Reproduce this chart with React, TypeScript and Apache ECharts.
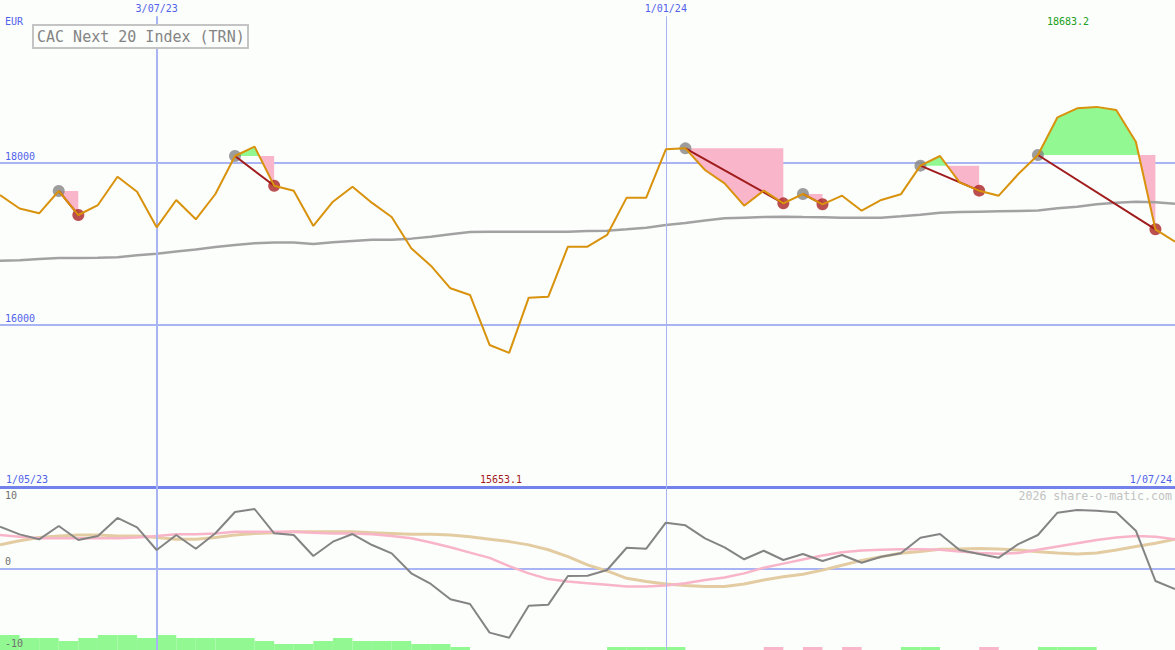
import React, { useEffect, useRef } from 'react';
import * as echarts from 'echarts';

// ---------- data ----------
const chartTitle = 'CAC Next 20 Index (TRN)';
const currency = 'EUR';
const watermark = '2026 share-o-matic.com';
const dateLabels = ['1/05/23', '3/07/23', '1/01/24', '1/07/24'];
const dateLabelIdx = [0, 8, 34, 60];
const priceTicks = [16000, 18000];
const oscTicks = [-10, 0, 10];

// weekly closes (index 0 .. 60)
const price = [
  17598, 17431, 17372, 17647, 17351, 17474, 17823, 17638, 17199, 17536,
  17298, 17610, 18078, 18193, 17712, 17651, 17216, 17515, 17700, 17500,
  17327, 16941, 16727, 16448, 16366, 15750, 15653.1, 16333, 16345, 16961,
  16961, 17105, 17565, 17565, 18160, 18172, 17906, 17741, 17466, 17651,
  17495, 17610, 17483, 17589, 17404, 17536, 17606, 17959, 18078, 17754,
  17651, 17589, 17856, 18090, 18555, 18665, 18683.2, 18645, 18254, 17175,
  17022,
];

// slow moving average
const movingAvg = [
  16788, 16795, 16810, 16821, 16821, 16825, 16830, 16855, 16875, 16900,
  16925, 16957, 16982, 17003, 17011, 17011, 16994, 17015, 17031, 17047,
  17047, 17060, 17084, 17113, 17142, 17146, 17146, 17146, 17146, 17146,
  17154, 17158, 17175, 17195, 17228, 17253, 17282, 17310, 17318, 17326,
  17330, 17325, 17322, 17318, 17318, 17318, 17335, 17355, 17380, 17388,
  17392, 17396, 17400, 17408, 17433, 17454, 17483, 17503, 17515, 17507,
  17491,
];

// trades: [entry index, exit index]
const tradeEntries = [3, 12, 35, 41, 47, 53];
const tradeExits = [4, 14, 40, 42, 50, 59];

// lower panel
const oscillator = [
  5.13, 4.19, 3.58, 5.21, 3.5, 3.99, 6.2, 5.05, 2.27, 4.11,
  2.43, 4.32, 6.93, 7.3, 4.32, 4.11, 1.53, 3.29, 4.23, 2.88,
  1.86, -0.59, -1.9, -3.78, -4.36, -7.87, -8.49, -4.56, -4.44, -0.92,
  -0.88, -0.18, 2.55, 2.43, 5.62, 5.3, 3.7, 2.6, 1.13, 2.18,
  1.04, 1.78, 0.92, 1.66, 0.71, 1.45, 1.86, 3.78, 4.23, 2.27,
  1.78, 1.33, 3.0, 4.11, 6.85, 7.18, 7.09, 6.9, 4.64, -1.53,
  -2.52,
];
const pinkSignal = [
  4.1, 3.9, 3.7, 3.7, 3.7, 3.7, 3.7, 3.8, 4.0, 4.2,
  4.2, 4.3, 4.5, 4.5, 4.5, 4.5, 4.4, 4.3, 4.3, 4.2,
  4.0, 3.7, 3.2, 2.6, 1.95, 1.3, 0.3, -0.6, -1.3, -1.6,
  -1.8, -2.0, -2.2, -2.2, -2.1, -1.8, -1.4, -1.1, -0.6, 0.1,
  0.6, 1.1, 1.6, 2.0, 2.2, 2.3, 2.35, 2.35, 2.3, 2.1,
  1.9, 1.8, 1.9, 2.3, 2.7, 3.1, 3.5, 3.8, 4.0, 3.9,
  3.6,
];
const tanSignal = [
  2.9, 3.4, 3.8, 4.0, 4.1, 4.1, 4.0, 4.0, 3.8, 3.6,
  3.6, 3.8, 4.1, 4.3, 4.4, 4.5, 4.5, 4.5, 4.5, 4.4,
  4.3, 4.2, 4.2, 4.1, 3.9, 3.6, 3.3, 2.9, 2.3, 1.45,
  0.45, -0.3, -1.2, -1.6, -1.9, -2.1, -2.2, -2.2, -1.9, -1.4,
  -1.0, -0.7, -0.2, 0.4, 1.0, 1.45, 1.86, 2.1, 2.35, 2.4,
  2.45, 2.4, 2.27, 2.06, 1.9, 1.78, 1.9, 2.27, 2.7, 3.1,
  3.58,
];
// histogram levels per interval i..i+1 (positive green, negative pink)
const histLevels = [
  5, 4, 4, 3, 4, 5, 5, 4, 5, 4, 4, 4, 4, 3, 2, 2, 3, 4, 3, 3,
  3, 2, 2, 1, 0, 0, 0, 0, 0, 0, 0, 1, 1, 1, 1, 0, 0, 0, 0, -1,
  0, -1, 0, -1, 0, 0, 1, 1, 0, 0, -1, 0, 0, 1, 1, 1, 0, 0, 0, 0,
];

// ---------- styles ----------
const MONO = 'DejaVu Sans Mono';
const BLUE_TEXT = '#5062ea';
const GRID_LINE = '#a8b4f4';
const BG = '#fcfefc';

function splitFill(e: number, x: number) {
  const L = price[e];
  const up: number[][] = [[e, L]];
  const dn: number[][] = [[e, L]];
  for (let k = e; k <= x; k++) {
    const v = price[k];
    up.push([k, Math.max(v, L)]);
    dn.push([k, Math.min(v, L)]);
    if (k < x) {
      const w = price[k + 1];
      if ((v - L) * (w - L) < 0) {
        const t = (L - v) / (w - v);
        up.push([k + t, L]);
        dn.push([k + t, L]);
      }
    }
  }
  up.push([x, L]);
  dn.push([x, L]);
  return { up, dn };
}

export default function App() {
  const ref = useRef<HTMLDivElement>(null);

  useEffect(() => {
    if (!ref.current) return;
    const chart = echarts.init(ref.current, undefined, { renderer: 'svg' });

    const vLines = (withLabels: boolean, yLow: number, yHigh: number) =>
      [1, 2].map((j) => [
        {
          coord: [dateLabelIdx[j], yLow],
          lineStyle: { color: GRID_LINE, width: j === 1 ? 2 : 1, type: 'solid' },
          label: withLabels
            ? { show: true, position: 'end', distance: 3, formatter: dateLabels[j], color: BLUE_TEXT, fontFamily: MONO, fontSize: 10 }
            : { show: false },
        },
        { coord: [dateLabelIdx[j], yHigh] },
      ]);

    const maxV = Math.max(...price);
    const minV = Math.min(...price);

    const option: any = {
      animation: false,
      backgroundColor: BG,
      textStyle: { fontFamily: MONO },
      grid: [
        { left: 0, right: 0, top: 0, height: 487 },
        { left: 0, right: 0, top: 487, height: 163 },
      ],
      xAxis: [
        {
          gridIndex: 0, type: 'value', min: 0, max: 60, interval: 60, position: 'bottom',
          axisLine: { show: false, onZero: false }, axisTick: { show: false }, splitLine: { show: false },
          axisLabel: {
            inside: true, margin: 3, color: BLUE_TEXT, fontFamily: MONO, fontSize: 10,
            alignMinLabel: 'left', alignMaxLabel: 'right', padding: [0, 3, 0, 6],
            formatter: (v: number) => (v === dateLabelIdx[0] ? dateLabels[0] : v === dateLabelIdx[3] ? dateLabels[3] : ''),
          },
        },
        {
          gridIndex: 1, type: 'value', min: 0, max: 60, position: 'top',
          axisLine: { show: true, onZero: false, lineStyle: { color: '#7282ea', width: 3 } },
          axisTick: { show: false }, axisLabel: { show: false }, splitLine: { show: false },
        },
      ],
      yAxis: [
        {
          gridIndex: 0, type: 'value', position: 'left', min: 14000, max: 20000, interval: 2000,
          axisLine: { show: false }, axisTick: { show: false },
          splitLine: { show: true, showMinLine: false, showMaxLine: false, lineStyle: { color: GRID_LINE, width: 2 } },
          axisLabel: {
            inside: true, margin: 5, verticalAlign: 'bottom', padding: [0, 0, 1, 0],
            color: BLUE_TEXT, fontFamily: MONO, fontSize: 10,
            formatter: (v: number) => (priceTicks.includes(v) ? String(v) : ''),
          },
        },
        {
          gridIndex: 1, type: 'value', position: 'left', min: -10, max: 10, interval: 10,
          axisLine: { show: false }, axisTick: { show: false },
          splitLine: { show: true, showMinLine: false, showMaxLine: false, lineStyle: { color: GRID_LINE, width: 2 } },
          axisLabel: { show: false },
        },
        { gridIndex: 1, type: 'value', position: 'right', min: 0, max: 163 / 3, show: false },
        {
          gridIndex: 1, type: 'value', position: 'left', offset: 0, min: -10, max: 10, interval: 10, z: 20,
          axisLine: { show: false }, axisTick: { show: false }, splitLine: { show: false },
          axisLabel: {
            inside: true, margin: 5, verticalAlign: 'bottom', verticalAlignMaxLabel: 'top',
            showMinLabel: true, showMaxLabel: true,
            padding: [3, 0, 2, 0], color: '#707070', fontFamily: MONO, fontSize: 10,
            formatter: (v: number) => (oscTicks.includes(v) ? String(v) : ''),
          },
        },
      ],
      series: [
        // trade fills
        {
          type: 'custom', xAxisIndex: 0, yAxisIndex: 0, z: 2, silent: true, clip: false,
          data: tradeEntries.map((e, i) => [e, price[e], tradeExits[i], price[tradeExits[i]]]),
          encode: { x: [0, 2], y: [1, 3] },
          renderItem: (params: any, api: any) => {
            const i = params.dataIndex;
            const { up, dn } = splitFill(tradeEntries[i], tradeExits[i]);
            return {
              type: 'group',
              children: [
                { type: 'polygon', shape: { points: up.map((p) => api.coord(p)) }, style: { fill: '#92f892', stroke: null } },
                { type: 'polygon', shape: { points: dn.map((p) => api.coord(p)) }, style: { fill: '#f9b6ca', stroke: null } },
              ],
            };
          },
        },
        // moving average + vertical lines
        {
          type: 'line', xAxisIndex: 0, yAxisIndex: 0, z: 3, silent: true,
          data: movingAvg.map((v, i) => [i, v]), showSymbol: false,
          lineStyle: { color: '#a2a2a2', width: 2.5 },
          markLine: { silent: true, symbol: ['none', 'none'], data: vLines(true, 14000, 19800) },
        },
        // entry dots
        {
          type: 'scatter', xAxisIndex: 0, yAxisIndex: 0, z: 4, silent: true,
          data: tradeEntries.map((e) => [e, price[e]]), symbolSize: 12,
          itemStyle: { color: '#848484' },
        },
        // exit dots
        {
          type: 'scatter', xAxisIndex: 0, yAxisIndex: 0, z: 4, silent: true,
          data: tradeExits.map((e) => [e, price[e]]), symbolSize: 12,
          itemStyle: { color: '#aa2222' },
        },
        // trade lines
        {
          type: 'custom', xAxisIndex: 0, yAxisIndex: 0, z: 5, silent: true,
          data: tradeEntries.map((e, i) => [e, price[e], tradeExits[i], price[tradeExits[i]]]),
          encode: { x: [0, 2], y: [1, 3] },
          renderItem: (params: any, api: any) => {
            const a = api.coord([api.value(0), api.value(1)]);
            const b = api.coord([api.value(2), api.value(3)]);
            return { type: 'line', shape: { x1: a[0], y1: a[1], x2: b[0], y2: b[1] }, style: { stroke: '#a01c1c', lineWidth: 2 } };
          },
        },
        // price
        {
          type: 'line', xAxisIndex: 0, yAxisIndex: 0, z: 6, silent: true,
          data: price.map((v, i) => [i, v]), showSymbol: false,
          lineStyle: { color: '#d8920c', width: 2 },
        },
        // lower panel
        {
          type: 'line', xAxisIndex: 1, yAxisIndex: 1, z: 2, silent: true,
          data: tanSignal.map((v, i) => [i, v]), showSymbol: false,
          lineStyle: { color: '#e4cca2', width: 3 },
          markLine: { silent: true, symbol: ['none', 'none'], data: vLines(false, -10, 10) },
        },
        {
          type: 'line', xAxisIndex: 1, yAxisIndex: 1, z: 3, silent: true,
          data: pinkSignal.map((v, i) => [i, v]), showSymbol: false,
          lineStyle: { color: '#f8b4c8', width: 2.5 },
        },
        {
          type: 'custom', xAxisIndex: 1, yAxisIndex: 2, z: 4, silent: true,
          data: histLevels.map((v, i) => [i, v]),
          encode: { x: 0, y: 1 },
          renderItem: (params: any, api: any) => {
            const i = api.value(0);
            const v = api.value(1);
            if (!v) return null;
            const p0 = api.coord([i, 0]);
            const p1 = api.coord([i + 1, Math.abs(v)]);
            return {
              type: 'rect',
              shape: { x: p0[0], y: p1[1], width: p1[0] - p0[0], height: p0[1] - p1[1] },
              style: { fill: v > 0 ? '#92f892' : '#f9b6ca', stroke: null },
            };
          },
        },
        {
          type: 'line', xAxisIndex: 1, yAxisIndex: 1, z: 5, silent: true,
          data: oscillator.map((v, i) => [i, v]), showSymbol: false,
          lineStyle: { color: '#848484', width: 2 },
        },
      ],
      graphic: [
        {
          type: 'rect', z: 100, shape: { x: 33, y: 25, width: 215, height: 23 },
          style: { fill: BG, stroke: '#c4c4c4', lineWidth: 2 },
        },
        {
          type: 'text', z: 101, x: 37, y: 37,
          style: { text: chartTitle, fill: '#848484', font: `15px '${MONO}'`, verticalAlign: 'middle', align: 'left' },
        },
        {
          type: 'text', z: 101, x: 5, y: 21,
          style: { text: currency, fill: BLUE_TEXT, font: `10px '${MONO}'`, verticalAlign: 'middle', align: 'left' },
        },
        {
          type: 'text', z: 101, x: 1068, y: 21,
          style: { text: maxV.toFixed(1), fill: '#22a022', font: `10px '${MONO}'`, verticalAlign: 'middle', align: 'center' },
        },
        {
          type: 'text', z: 101, x: 501, y: 479,
          style: { text: minV.toFixed(1), fill: '#a41c1c', font: `10px '${MONO}'`, verticalAlign: 'middle', align: 'center' },
        },
        {
          type: 'text', z: 101, x: 1172, y: 496,
          style: { text: watermark, fill: '#c2c2c2', font: `11.6px '${MONO}'`, verticalAlign: 'middle', align: 'right' },
        },
      ],
    };

    chart.setOption(option);
    return () => chart.dispose();
  }, []);

  return <div ref={ref} style={{ position: 'absolute', left: 0, top: 0, width: 1175, height: 650 }} />;
}
